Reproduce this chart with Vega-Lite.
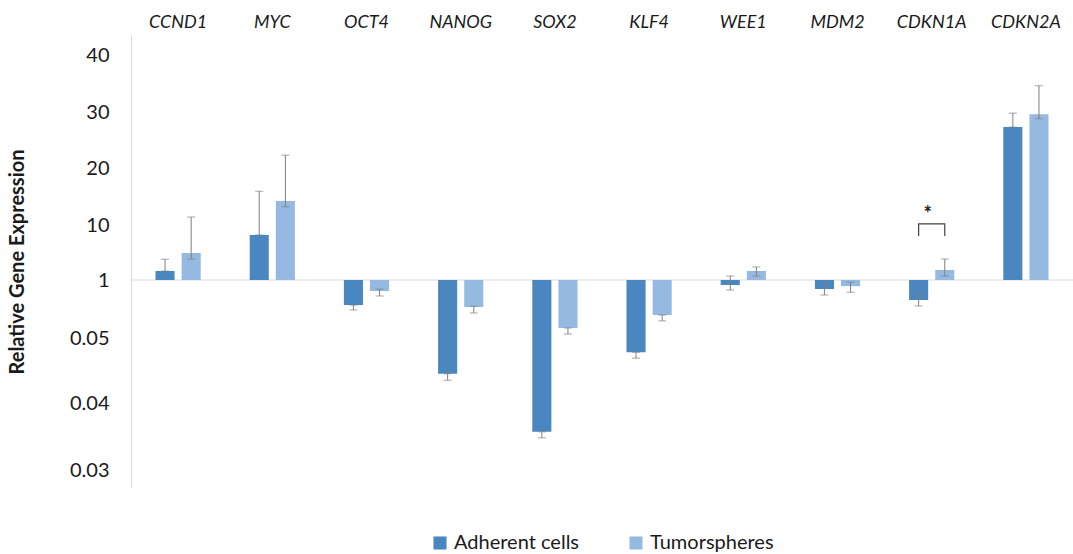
{
  "$schema": "https://vega.github.io/schema/vega-lite/v6.json",
  "width": 942,
  "height": 453,
  "autosize": {"type": "none"},
  "padding": {"left": 131, "top": 35, "right": 0, "bottom": 66},
  "background": "white",
  "config": {
    "view": {"stroke": null},
    "font": "Lato",
    "axis": {"grid": false}
  },
  "datasets": {
    "bars": [
      {"gene": "CCND1", "group": "Adherent cells", "value": 2.47, "lo": 2.47, "hi": 4.4},
      {"gene": "CCND1", "group": "Tumorspheres", "value": 5.42, "lo": 4.44, "hi": 11.4},
      {"gene": "MYC", "group": "Adherent cells", "value": 8.36, "lo": 8.36, "hi": 15.9},
      {"gene": "MYC", "group": "Tumorspheres", "value": 14.2, "lo": 13.2, "hi": 22.3},
      {"gene": "OCT4", "group": "Adherent cells", "value": 0.59, "lo": 0.509, "hi": 0.59},
      {"gene": "OCT4", "group": "Tumorspheres", "value": 0.82, "lo": 0.738, "hi": 0.85},
      {"gene": "NANOG", "group": "Adherent cells", "value": 0.0445, "lo": 0.0435, "hi": 0.0445},
      {"gene": "NANOG", "group": "Tumorspheres", "value": 0.558, "lo": 0.46, "hi": 0.57},
      {"gene": "SOX2", "group": "Adherent cells", "value": 0.0357, "lo": 0.0348, "hi": 0.0357},
      {"gene": "SOX2", "group": "Tumorspheres", "value": 0.214, "lo": 0.116, "hi": 0.214},
      {"gene": "KLF4", "group": "Adherent cells", "value": 0.0478, "lo": 0.0469, "hi": 0.0478},
      {"gene": "KLF4", "group": "Tumorspheres", "value": 0.427, "lo": 0.33, "hi": 0.427},
      {"gene": "WEE1", "group": "Adherent cells", "value": 0.918, "lo": 0.836, "hi": 1.65},
      {"gene": "WEE1", "group": "Tumorspheres", "value": 2.47, "lo": 1.65, "hi": 3.13},
      {"gene": "MDM2", "group": "Adherent cells", "value": 0.853, "lo": 0.754, "hi": 0.95},
      {"gene": "MDM2", "group": "Tumorspheres", "value": 0.9, "lo": 0.8, "hi": 0.967},
      {"gene": "CDKN1A", "group": "Adherent cells", "value": 0.672, "lo": 0.574, "hi": 0.79},
      {"gene": "CDKN1A", "group": "Tumorspheres", "value": 2.64, "lo": 1.65, "hi": 4.44},
      {"gene": "CDKN2A", "group": "Adherent cells", "value": 27.3, "lo": 27.3, "hi": 29.8},
      {"gene": "CDKN2A", "group": "Tumorspheres", "value": 29.6, "lo": 28.8, "hi": 34.6}
    ],
    "bracket": [
      {"gene": "CDKN1A", "group": "Adherent cells", "y": 8.2, "order": 1},
      {"gene": "CDKN1A", "group": "Adherent cells", "y": 10.2, "order": 2},
      {"gene": "CDKN1A", "group": "Tumorspheres", "y": 10.2, "order": 3},
      {"gene": "CDKN1A", "group": "Tumorspheres", "y": 8.2, "order": 4}
    ],
    "star": [
      {"gene": "CDKN1A", "y": 11.8, "label": "*"}
    ]
  },
  "encoding": {
    "x": {
      "field": "gene",
      "type": "nominal",
      "sort": ["CCND1", "MYC", "OCT4", "NANOG", "SOX2", "KLF4", "WEE1", "MDM2", "CDKN1A", "CDKN2A"],
      "scale": {"paddingInner": 0.52, "paddingOuter": 0.26},
      "axis": {
        "orient": "top",
        "title": null,
        "domain": false,
        "ticks": false,
        "labelAngle": 0,
        "labelFontStyle": "italic",
        "labelFontSize": 18,
        "labelColor": "#1a1a1a",
        "labelPadding": 4
      }
    }
  },
  "layer": [
    {
      "data": {"values": [{"base": 1}]},
      "mark": {"type": "rule", "color": "#d9d9d9", "strokeWidth": 1},
      "encoding": {
        "x": null,
        "y": {"field": "base", "type": "quantitative"}
      }
    },
    {
      "data": {"name": "bars"},
      "mark": {"type": "bar"},
      "encoding": {
        "xOffset": {
          "field": "group",
          "type": "nominal",
          "sort": ["Adherent cells", "Tumorspheres"],
          "scale": {"paddingInner": 0.27, "paddingOuter": 0}
        },
        "y": {
          "field": "value",
          "type": "quantitative",
          "scale": {
            "domain": [0.0273, 0.03, 0.04, 0.05, 1, 10, 20, 30, 40, 43.5],
            "range": [453, 435, 368, 303, 245, 190, 133, 77, 20, 0],
            "zero": false,
            "nice": false
          },
          "axis": {
            "title": "Relative Gene Expression",
            "titleFontSize": 20,
            "titleFontWeight": "bold",
            "titleColor": "#1a1a1a",
            "titleX": -104,
            "values": [0.03, 0.04, 0.05, 1, 10, 20, 30, 40],
            "format": "~g",
            "labelFontSize": 20,
            "labelColor": "#1a1a1a",
            "labelPadding": 22,
            "ticks": false,
            "domainColor": "#d9d9d9",
            "orient": "left"
          }
        },
        "y2": {"datum": 1},
        "color": {
          "field": "group",
          "type": "nominal",
          "sort": ["Adherent cells", "Tumorspheres"],
          "scale": {"domain": ["Adherent cells", "Tumorspheres"], "range": ["#4a86bf", "#95b9e0"]},
          "legend": {
            "title": null,
            "orient": "none",
            "direction": "horizontal",
            "legendX": 299,
            "legendY": 498,
            "symbolType": "square",
            "symbolSize": 170,
            "symbolStrokeWidth": 0,
            "labelFontSize": 20,
            "labelColor": "#1a1a1a",
            "columnPadding": 46,
            "labelOffset": 4
          }
        }
      }
    },
    {
      "data": {"name": "bars"},
      "mark": {"type": "rule", "color": "#7f7f7f", "strokeWidth": 1},
      "encoding": {
        "xOffset": {"field": "group", "type": "nominal", "sort": ["Adherent cells", "Tumorspheres"]},
        "y": {"field": "lo", "type": "quantitative"},
        "y2": {"field": "hi"}
      }
    },
    {
      "data": {"name": "bars"},
      "transform": [{"filter": "datum.hi > datum.value || datum.value < 1"}],
      "mark": {"type": "tick", "color": "#7f7f7f", "size": 8, "thickness": 1},
      "encoding": {
        "xOffset": {"field": "group", "type": "nominal", "sort": ["Adherent cells", "Tumorspheres"]},
        "y": {"field": "hi", "type": "quantitative"}
      }
    },
    {
      "data": {"name": "bars"},
      "transform": [{"filter": "datum.lo < datum.value || datum.value > 1"}],
      "mark": {"type": "tick", "color": "#7f7f7f", "size": 8, "thickness": 1},
      "encoding": {
        "xOffset": {"field": "group", "type": "nominal", "sort": ["Adherent cells", "Tumorspheres"]},
        "y": {"field": "lo", "type": "quantitative"}
      }
    },
    {
      "data": {"name": "bracket"},
      "mark": {"type": "line", "color": "#404040", "strokeWidth": 1.2},
      "encoding": {
        "xOffset": {"field": "group", "type": "nominal", "sort": ["Adherent cells", "Tumorspheres"]},
        "y": {"field": "y", "type": "quantitative"},
        "order": {"field": "order", "type": "quantitative"}
      }
    },
    {
      "data": {"name": "star"},
      "mark": {"type": "text", "fontSize": 20, "fontWeight": "bold", "color": "#1a1a1a", "baseline": "middle", "dx": -4},
      "encoding": {
        "y": {"field": "y", "type": "quantitative"},
        "text": {"field": "label"}
      }
    }
  ]
}
